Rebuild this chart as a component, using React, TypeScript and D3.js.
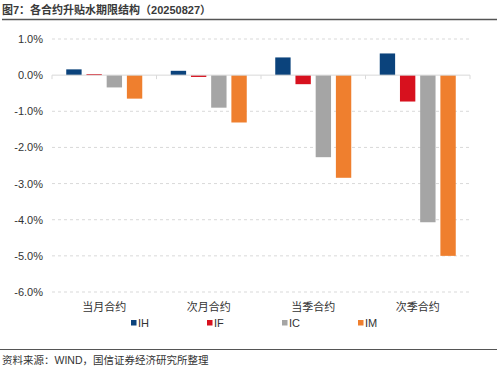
import React, { useEffect, useRef } from "react";
import * as d3 from "d3";

const categories = ["当月合约", "次月合约", "当季合约", "次季合约"];
const seriesNames = ["IH", "IF", "IC", "IM"];
const ihValues = [0.16, 0.12, 0.49, 0.6];
const ifValues = [0.03, -0.05, -0.25, -0.73];
const icValues = [-0.34, -0.9, -2.27, -4.07];
const imValues = [-0.65, -1.31, -2.84, -5.0];
const yTicks = [1, 0, -1, -2, -3, -4, -5, -6];
const colors = ["#0b437c", "#d7111e", "#a5a5a5", "#ef7f2e"];

const W = 499;
const H = 371;
const FONT = "'Liberation Sans', Arial, 'Noto Sans CJK SC', sans-serif";

export default function App() {
  const ref = useRef<SVGSVGElement | null>(null);

  useEffect(() => {
    const svg = d3.select(ref.current);
    svg.selectAll("*").remove();

    const allSeries = [ihValues, ifValues, icValues, imValues];
    const margin = { left: 52, right: 29, top: 39, bottom: 79 };

    const x = d3.scaleBand().domain(categories).range([margin.left, W - margin.right]).paddingInner(0).paddingOuter(0);
    const inner = d3.scaleBand().domain(seriesNames).range([0, 76]).paddingInner(0.24).paddingOuter(0);
    const y = d3.scaleLinear().domain([1, -6]).range([margin.top, H - margin.bottom]);

    // title
    svg.append("text")
      .attr("x", 2).attr("y", 14)
      .style("font-family", FONT).style("font-size", "11px").style("font-weight", "bold")
      .attr("fill", "#3a3a3a")
      .text("图7：各合约升贴水期限结构（20250827）");
    svg.append("line").attr("x1", 2).attr("x2", W - 2).attr("y1", 19.5).attr("y2", 19.5)
      .attr("stroke", "#555").attr("stroke-width", 1.5);

    // grid
    svg.append("g").selectAll("line")
      .data(yTicks.filter(d => d !== 0))
      .enter().append("line")
      .attr("x1", margin.left).attr("x2", W - margin.right)
      .attr("y1", d => y(d)).attr("y2", d => y(d))
      .attr("stroke", "#d9d9d9").attr("stroke-dasharray", "3,3");

    // y labels
    svg.append("g").selectAll("text")
      .data(yTicks)
      .enter().append("text")
      .attr("x", 43).attr("y", d => y(d) + 4)
      .attr("text-anchor", "end")
      .style("font-family", FONT).style("font-size", "11px")
      .attr("fill", "#333")
      .text(d => d.toFixed(1) + "%");

    // bars
    const groups = svg.append("g").selectAll("g")
      .data(allSeries)
      .enter().append("g")
      .attr("fill", (_, i) => colors[i]);
    groups.each(function (vals, si) {
      const gx = inner(seriesNames[si]) as number;
      d3.select(this).selectAll("rect")
        .data(vals)
        .enter().append("rect")
        .attr("x", (_, ci) => (x(categories[ci]) as number) + (x.bandwidth() - 76) / 2 + gx)
        .attr("y", d => y(Math.max(0, d)))
        .attr("width", inner.bandwidth())
        .attr("height", d => Math.max(1, Math.abs(y(d) - y(0))));
    });

    // zero line + ticks
    svg.append("line").attr("x1", margin.left).attr("x2", W - margin.right)
      .attr("y1", y(0)).attr("y2", y(0)).attr("stroke", "#d9d9d9");
    svg.append("g").selectAll("line")
      .data(d3.range(categories.length + 1))
      .enter().append("line")
      .attr("x1", i => margin.left + i * x.bandwidth()).attr("x2", i => margin.left + i * x.bandwidth())
      .attr("y1", y(0)).attr("y2", y(0) + 4).attr("stroke", "#d9d9d9");

    // category labels
    svg.append("g").selectAll("text")
      .data(categories)
      .enter().append("text")
      .attr("x", d => (x(d) as number) + x.bandwidth() / 2)
      .attr("y", 311)
      .attr("text-anchor", "middle")
      .style("font-family", FONT).style("font-size", "11px")
      .attr("fill", "#333")
      .text(d => d);

    // legend
    const legendX = [131, 207, 282, 358];
    const lg = svg.append("g").selectAll("g")
      .data(seriesNames)
      .enter().append("g")
      .attr("transform", (_, i) => `translate(${legendX[i]},323)`);
    lg.append("rect").attr("x", 0).attr("y", -3).attr("width", 5.5).attr("height", 5.5)
      .attr("fill", (_, i) => colors[i]);
    lg.append("text").attr("x", 7).attr("y", 4)
      .style("font-family", FONT).style("font-size", "11px")
      .attr("fill", "#333")
      .text(d => d);

    // source
    svg.append("line").attr("x1", 0).attr("x2", W - 2).attr("y1", 349.5).attr("y2", 349.5)
      .attr("stroke", "#555").attr("stroke-width", 1.2);
    svg.append("text").attr("x", 2).attr("y", 364)
      .style("font-family", FONT).style("font-size", "10.5px")
      .attr("fill", "#333")
      .text("资料来源：WIND，国信证券经济研究所整理");
  }, []);

  return (
    <svg ref={ref} width={W} height={H}
      style={{ position: "absolute", left: 0, top: 0, background: "#fff" }} />
  );
}
